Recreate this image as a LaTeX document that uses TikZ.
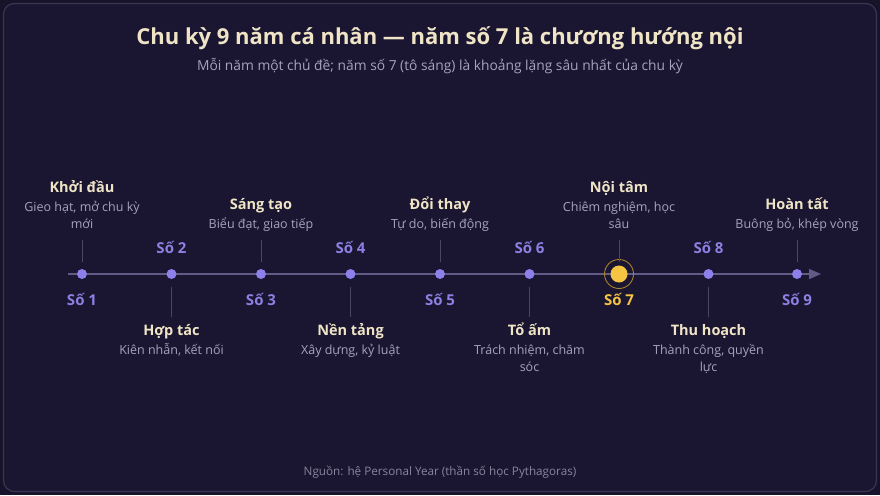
\documentclass[tikz,border=0pt]{standalone}
\usepackage{fontspec}
\setmainfont{Open Sans}
\usetikzlibrary{arrows.meta,calc}
\definecolor{bgouter}{HTML}{17132A}
\definecolor{bgpanel}{HTML}{1A1530}
\definecolor{panelborder}{HTML}{3A3552}
\definecolor{titlecol}{HTML}{EFE5C6}
\definecolor{subcol}{HTML}{A8A2BE}
\definecolor{numcol}{HTML}{8C80E2}
\definecolor{dotcol}{HTML}{8C80EA}
\definecolor{axiscol}{HTML}{625B86}
\definecolor{tickcol}{HTML}{4A4563}
\definecolor{gold}{HTML}{F6C443}
\definecolor{goldring}{HTML}{A8822E}
\definecolor{footcol}{HTML}{8A849E}
\tikzset{
  phtitle/.style={text=titlecol,font=\bfseries\fontsize{14.5}{18}\selectfont,inner sep=0pt,anchor=base},
  phsub/.style={text=subcol,font=\fontsize{12.5}{17}\selectfont,align=center,inner sep=0pt,anchor=base},
  phnum/.style={text=numcol,font=\bfseries\fontsize{15}{17}\selectfont,inner sep=0pt},
  phdot/.style={circle,fill=dotcol,minimum size=10pt,inner sep=0pt},
  phtick/.style={draw=tickcol,line width=0.9pt},
}
\begin{document}
\begin{tikzpicture}[x=1pt,y=-1pt]
\fill[bgouter] (0,0) rectangle (880,495);
\useasboundingbox (0,0) rectangle (880,495);
\draw[fill=bgpanel,draw=panelborder,line width=1.2pt,rounded corners=11pt] (3.5,3.5) rectangle (876.5,491.5);
\node[text=titlecol,font=\bfseries\fontsize{22}{26}\selectfont] (title) at (440,38) {Chu kỳ 9 năm cá nhân — năm số 7 là chương hướng nội};
\node[text=subcol,font=\fontsize{13.8}{16}\selectfont] (subtitle) at (440,66) {Mỗi năm một chủ đề; năm số 7 (tô sáng) là khoảng lặng sâu nhất của chu kỳ};
\node[text=footcol,font=\fontsize{11.7}{14}\selectfont] (foot) at (440,472) {Nguồn: hệ Personal Year (thần số học Pythagoras)};
% axis
\coordinate (axs) at (68,274);
\coordinate (axe) at (821,274);
\draw[axiscol,line width=1.6pt,-{Triangle[length=12pt,width=10pt]}] (axs) -- (axe);
% dots
\foreach \i/\x in {1/82,2/171.5,3/261,4/350.5,5/440,6/529.5,8/708.5,9/797}{
  \node[phdot] (d\i) at (\x,274) {};
}
\node[circle,draw=goldring,line width=0.9pt,minimum size=29pt,inner sep=0pt] (ring7) at (619,274) {};
\node[circle,fill=gold,minimum size=17pt,inner sep=0pt] (d7) at (619,274) {};
% numbers
\foreach \i in {1,3,5,9}{ \node[phnum] (n\i) at ($(d\i)+(0,25)$) {Số \i}; }
\foreach \i in {2,4,6,8}{ \node[phnum] (n\i) at ($(d\i)+(0,-27)$) {Số \i}; }
\node[phnum,text=gold] (n7) at ($(d7)+(0,25)$) {Số 7};
% odd labels (above): #4 = extra height of subtitle (0 or 17)
\newcommand{\oddlab}[4]{%
  \node[phsub] (s#1) at ($(d#1)+(0,-46)$) {#3};
  \node[phtitle] (t#1) at ($(s#1.base)+(0,-18.5-#4)$) {#2};
  \coordinate (k#1) at ($(d#1)+(0,-12)$);
  \coordinate (m#1) at ($(d#1)+(0,-34)$);
  \draw[phtick] (k#1) -- (m#1);
}
\newcommand{\evenlab}[4]{%
  \node[phtitle] (t#1) at ($(d#1)+(0,61)$) {#2};
  \node[phsub] (s#1) at ($(t#1.base)+(0,19+#4)$) {#3};
  \coordinate (k#1) at ($(d#1)+(0,13)$);
  \coordinate (m#1) at ($(d#1)+(0,43)$);
  \draw[phtick] (k#1) -- (m#1);
}
\oddlab{1}{Khởi đầu}{Gieo hạt, mở chu kỳ\\mới}{17}
\oddlab{3}{Sáng tạo}{Biểu đạt, giao tiếp}{0}
\oddlab{5}{Đổi thay}{Tự do, biến động}{0}
\oddlab{7}{Nội tâm}{Chiêm nghiệm, học\\sâu}{17}
\oddlab{9}{Hoàn tất}{Buông bỏ, khép vòng}{0}
\evenlab{2}{Hợp tác}{Kiên nhẫn, kết nối}{0}
\evenlab{4}{Nền tảng}{Xây dựng, kỷ luật}{0}
\evenlab{6}{Tổ ấm}{Trách nhiệm, chăm\\sóc}{17}
\evenlab{8}{Thu hoạch}{Thành công, quyền\\lực}{17}
\end{tikzpicture}
\end{document}
